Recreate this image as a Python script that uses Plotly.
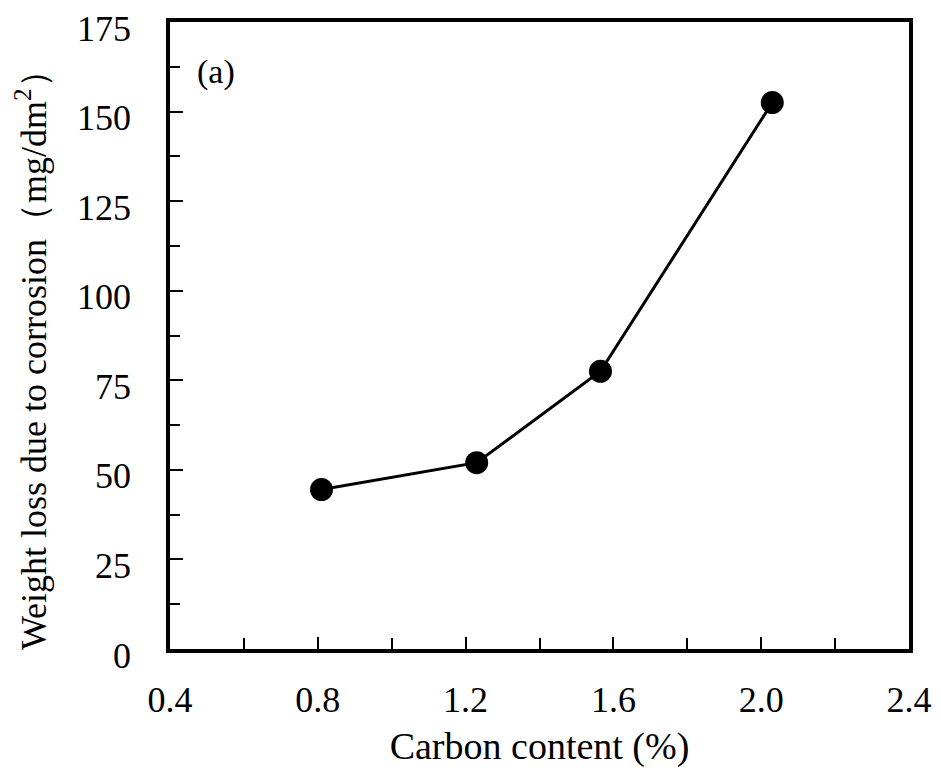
import plotly.graph_objects as go

carbon = [0.81, 1.23, 1.565, 2.03]
weight_loss = [44.5, 52.0, 77.5, 152.5]
x_ticks = [0.4, 0.8, 1.2, 1.6, 2.0, 2.4]
x_labels = ["0.4", "0.8", "1.2", "1.6", "2.0", "2.4"]
y_ticks = [0, 25, 50, 75, 100, 125, 150, 175]

font = "Liberation Serif, Times New Roman, serif"

# page body offset compensation
OFF = 8
L, R, T, B = 170 - OFF, 32 + OFF, 22 - OFF, 126 + OFF
W, H = 941, 775
pw = W - L - R
ph = H - T - B


def px(xp):
    return (xp - OFF - L) / pw


def py(yp):
    return (H - B - (yp - OFF)) / ph


fig = go.Figure()
fig.add_trace(go.Scatter(
    x=carbon, y=weight_loss, mode="lines+markers",
    line=dict(color="black", width=3),
    marker=dict(color="black", size=23),
    showlegend=False,
))

fig.update_layout(
    width=W, height=H,
    margin=dict(l=L, r=R, t=T, b=B, autoexpand=False),
    paper_bgcolor="white", plot_bgcolor="white",
    font=dict(family=font, color="black", size=36),
    xaxis=dict(
        range=[0.4, 2.4], tickvals=x_ticks, ticktext=x_labels,
        ticks="inside", ticklen=12, tickwidth=2, tickcolor="black",
        minor=dict(ticks="inside", ticklen=11, tickwidth=2, tickcolor="black", dtick=0.2, tick0=0.4),
        showline=True, linecolor="black", linewidth=3.5, mirror=True,
        showgrid=False, zeroline=False, automargin=False,
        ticklabelstandoff=16, ticklabeloverflow="allow",
        tickfont=dict(size=36),
        title=dict(text="Carbon content (%)", font=dict(size=38), standoff=14),
    ),
    yaxis=dict(
        range=[0, 175], tickvals=y_ticks,
        ticks="inside", ticklen=13, tickwidth=2, tickcolor="black",
        minor=dict(ticks="inside", ticklen=10, tickwidth=2, tickcolor="black", dtick=12.5, tick0=0),
        showline=True, linecolor="black", linewidth=3.5, mirror=True,
        showgrid=False, zeroline=False, automargin=False,
        ticklabelstandoff=28, ticklabelshift=6, ticklabeloverflow="allow",
        tickfont=dict(size=36),
    ),
)

fig.add_annotation(
    x=px(216), y=py(72), xref="paper", yref="paper", text="(a)",
    xanchor="center", yanchor="middle",
    showarrow=False, font=dict(size=34, family=font),
)
fig.add_annotation(
    x=px(31), y=py(351), xref="paper", yref="paper",
    text="Weight loss due to corrosion（mg/dm<sup>2</sup>）",
    textangle=-90, xanchor="center", yanchor="middle",
    showarrow=False, font=dict(size=36, family=font),
)

fig.write_html("out.html")
